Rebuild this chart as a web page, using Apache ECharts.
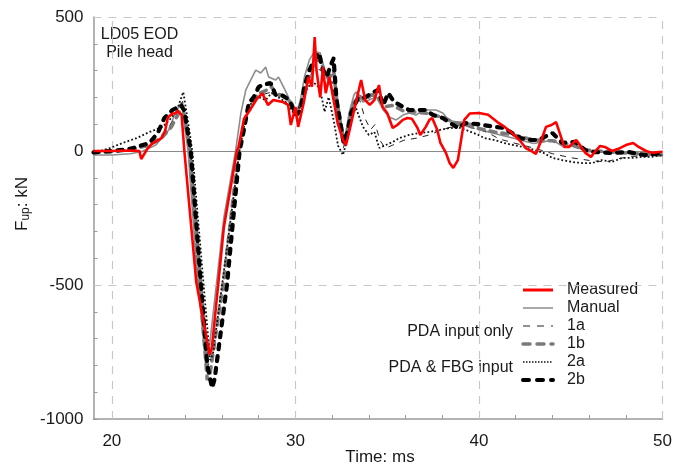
<!DOCTYPE html>
<html>
<head>
<meta charset="utf-8">
<script src="https://cdn.jsdelivr.net/npm/echarts@6/dist/echarts.min.js"></script>
<style>
html, body { margin: 0; padding: 0; background: #fff; }
#chart { width: 675px; height: 469px; }
</style>
</head>
<body>
<div id="chart"></div>
<script>
// Axis ticks and labels
const xLabelValues = [20, 30, 40, 50];
const xTickValues = [20, 22, 24, 26, 28, 30, 32, 34, 36, 38, 40, 42, 44, 46, 48, 50];
const yTickValues = [-1000, -900, -800, -700, -600, -500, -400, -300, -200, -100, 0, 100, 200, 300, 400, 500];
const xGridValues = [20, 30, 40, 50];
const yGridValues = [500, -500];

// Upward force at the pile head, [time ms, force kN]
const measured = [
  [19.0, 0], [20.0, 0], [21.0, 2], [21.5, 0], [21.6, -30], [21.95, 10], [22.2, 28], [22.5, 40],
  [22.7, 48], [22.9, 75], [23.05, 125], [23.3, 140], [23.45, 140], [23.6, 150], [23.8, 135],
  [23.95, 0], [24.6, -490], [25.33, -760], [25.45, -735], [26.1, -285], [26.81, 0], [26.9, 15],
  [27.2, 120], [27.5, 150], [27.9, 195], [28.2, 215], [28.5, 172], [28.8, 190], [29.3, 183],
  [29.6, 172], [29.75, 97], [30.0, 164], [30.15, 90], [30.45, 179], [30.7, 276], [30.9, 240],
  [31.05, 425], [31.15, 300], [31.35, 200], [31.5, 313], [31.65, 216], [31.85, 276], [32.15, 164],
  [32.3, 104], [32.6, 41], [32.75, 22], [32.95, 78], [33.3, 183], [33.58, 265], [33.8, 190],
  [34.05, 172], [34.3, 190], [34.55, 246], [34.75, 164], [35.0, 142], [35.3, 86], [35.55, 97],
  [35.85, 116], [36.1, 123], [36.35, 120], [36.65, 86], [36.8, 60], [37.1, 90], [37.3, 116],
  [37.45, 123], [37.73, 78], [37.9, 30], [38.2, -7], [38.4, -45], [38.6, -63], [38.85, -34],
  [39.0, 30], [39.2, 116], [39.5, 140], [40.0, 142], [40.5, 135], [41.0, 108], [41.4, 90],
  [41.8, 67], [42.2, 41], [42.55, 11], [42.85, 0], [43.1, -11], [43.4, 41], [43.65, 90],
  [43.95, 97], [44.2, 108], [44.4, 67], [44.65, 15], [44.9, 15], [45.3, 41], [45.8, -7],
  [46.1, -22], [46.35, 0], [46.6, 19], [46.85, 15], [47.25, 0], [47.6, 8], [48.0, 22],
  [48.4, 30], [48.7, 15], [49.1, 0], [49.45, -7], [49.8, -4], [50.0, -3]
];

const manual = [
  [19.0, -15], [20.0, -15], [21.0, -10], [21.6, -3], [22.4, 22], [23.1, 78], [23.45, 142],
  [23.8, 180], [24.15, 0], [24.6, -420], [25.1, -790], [25.3, -740], [26.1, -250], [26.74, 0],
  [27.03, 142], [27.3, 228], [27.57, 265], [27.84, 302], [28.11, 291], [28.38, 313], [28.54, 276],
  [28.92, 265], [29.08, 276], [29.35, 239], [29.62, 201], [29.78, 164], [30.05, 142], [30.27, 190],
  [30.49, 276], [30.76, 340], [31.03, 370], [31.35, 366], [31.7, 276], [31.97, 239], [32.24, 164],
  [32.49, 52], [32.65, 22], [32.92, 142], [33.19, 209], [33.3, 220], [33.68, 183], [34.0, 190],
  [34.41, 201], [34.78, 153], [35.11, 127], [35.49, 116], [35.86, 134], [36.19, 142], [36.57, 134],
  [36.95, 153], [37.66, 153], [38.03, 142], [38.35, 116], [38.73, 108], [39.11, 108], [39.43, 104],
  [39.81, 97], [40.3, 75], [41.18, 60], [42.05, 45], [42.97, 28], [43.51, 34], [44.0, 41],
  [44.54, 18], [45.24, 22], [45.78, -3], [47.08, -3], [47.78, -7], [48.7, -11], [50.0, -10]
];

const model1a = [
  [19.0, -8], [20.0, 0], [21.0, 10], [22.0, 30], [22.5, 45], [23.0, 80], [23.5, 130], [23.85, 185],
  [24.3, 0], [24.8, -430], [25.25, -800], [25.4, -780], [26.1, -450], [26.9, 0], [27.3, 150],
  [27.7, 190], [28.2, 210], [28.7, 220], [29.2, 200], [29.6, 175], [30.0, 135], [30.4, 200],
  [30.8, 280], [31.1, 310], [31.4, 300], [31.7, 240], [32.0, 260], [32.3, 120], [32.6, 10],
  [32.85, 60], [33.2, 170], [33.5, 190], [33.8, 120], [34.1, 80], [34.35, 100], [34.6, 40],
  [34.9, 10], [35.3, 22], [35.9, 40], [36.6, 48], [37.3, 60], [38.0, 80], [38.8, 95], [39.4, 90],
  [40.0, 80], [40.5, 68], [41.1, 45], [41.9, 30], [43.0, 11], [44.0, -10], [45.0, -25],
  [46.0, -35], [46.9, -41], [47.5, -30], [48.3, -20], [49.4, -18], [50.0, -15]
];

const model1b = [
  [19.0, -5], [20.0, -3], [21.0, 5], [22.05, 22], [22.7, 48], [23.24, 90], [23.68, 146], [23.8, 175],
  [23.95, 130], [24.25, 0], [24.7, -430], [25.2, -855], [25.35, -830], [26.1, -480], [26.9, 0],
  [27.19, 90], [27.46, 170], [27.73, 190], [28.0, 215], [28.38, 225], [28.7, 240], [28.92, 215],
  [29.35, 205], [29.78, 180], [30.05, 140], [30.32, 175], [30.65, 255], [31.03, 330], [31.35, 345],
  [31.59, 290], [31.81, 270], [32.08, 300], [32.24, 200], [32.49, 85], [32.7, 35], [32.92, 110],
  [33.19, 180], [33.46, 205], [33.8, 190], [34.14, 210], [34.5, 200], [34.84, 165], [35.3, 170],
  [35.86, 150], [36.57, 145], [37.28, 140], [38.03, 125], [38.73, 105], [39.43, 95], [39.81, 86],
  [40.84, 71], [41.89, 60], [42.97, 41], [44.0, 38], [45.08, 22], [45.78, 4], [47.24, -4],
  [48.7, -11], [50.0, -15]
];

const model2a = [
  [19.0, -8], [19.89, 11], [20.59, 30], [21.35, 48], [22.05, 71], [22.76, 90], [23.14, 116],
  [23.51, 146], [23.89, 220], [24.22, 78], [24.38, 0], [24.9, -420], [25.35, -780], [25.5, -760],
  [26.2, -400], [26.95, 0], [27.3, 127], [27.62, 183], [28.0, 201], [28.38, 190], [28.7, 216],
  [29.08, 200], [29.46, 183], [29.78, 153], [30.05, 127], [30.32, 175], [30.65, 235], [30.92, 257],
  [31.19, 246], [31.43, 201], [31.59, 146], [31.81, 201], [32.08, 116], [32.32, 20], [32.59, -15],
  [32.86, 52], [33.14, 142], [33.3, 160], [33.68, 90], [34.0, 60], [34.3, 71], [34.57, 11],
  [34.84, 20], [35.32, 34], [35.65, 48], [36.19, 60], [36.73, 67], [37.28, 71], [37.81, 78],
  [38.35, 85], [38.89, 88], [39.43, 75], [39.97, 60], [40.3, 48], [40.84, 41], [41.35, 30],
  [41.89, 22], [42.43, 15], [42.97, 5], [43.51, -7], [44.0, -26], [44.54, -34], [45.08, -41],
  [45.62, -45], [46.16, -45], [46.7, -34], [47.24, -41], [47.78, -26], [48.32, -26], [48.86, -22],
  [49.41, -22], [50.0, -15]
];

const model2b = [
  [19.0, -5], [20.0, 0], [21.0, 8], [22.05, 30], [22.5, 67], [22.86, 123], [23.3, 153], [23.78, 170],
  [23.95, 150], [24.3, 0], [24.8, -450], [25.2, -800], [25.46, -884], [25.6, -850], [26.27, -500],
  [26.96, 0], [27.03, 4], [27.19, 78], [27.46, 179], [27.73, 201], [28.0, 239], [28.19, 246],
  [28.65, 254], [28.92, 209], [29.24, 209], [29.51, 198], [29.78, 172], [30.05, 134], [30.27, 150],
  [30.49, 239], [30.76, 302], [31.03, 340], [31.3, 366], [31.43, 313], [31.7, 276], [31.97, 328],
  [32.08, 345], [32.24, 190], [32.49, 90], [32.65, 30], [32.86, 78], [33.03, 142], [33.41, 198],
  [33.8, 200], [34.14, 216], [34.51, 228], [34.78, 170], [35.05, 216], [35.38, 183], [36.19, 153],
  [37.1, 153], [37.5, 134], [38.03, 123], [38.84, 86], [39.27, 104], [39.97, 100], [40.84, 90],
  [41.35, 86], [42.27, 48], [42.86, 41], [43.24, 41], [44.0, 67], [44.54, 30], [45.24, 34],
  [45.78, 4], [46.32, -4], [47.24, -7], [48.16, -4], [49.03, -15], [50.0, -8]
];

const FONT = '"Liberation Sans", Arial, sans-serif';
const AXIS_GRAY = '#9a9a9a';
const GRID_GRAY = '#c8c8c8';

// Line styles shared by the curves and their legend samples
const styles = {
  'Measured': { color: '#ff0000', width: 2.6, type: 'solid' },
  'Manual': { color: '#8c8c8c', width: 1.6, type: 'solid' },
  '1a': { color: '#222222', width: 1, type: [6, 6] },
  '1b': { color: '#7a7a7a', width: 3.6, type: [6, 6], cap: 'round' },
  '2a': { color: '#111111', width: 1.8, type: [1.8, 2.2] },
  '2b': { color: '#000000', width: 4.2, type: [5, 7], cap: 'round' }
};
const legendStyles = {
  'Measured': { color: '#ff0000', width: 3, type: 'solid' },
  'Manual': { color: '#8c8c8c', width: 1.5, type: 'solid' },
  '1a': { color: '#222222', width: 1, type: [7, 7] },
  '1b': { color: '#7a7a7a', width: 3.5, type: [7, 7] },
  '2a': { color: '#111111', width: 1.5, type: [1.5, 1.5] },
  '2b': { color: '#000000', width: 4, type: [6, 8], cap: 'round' }
};

const chart = echarts.init(document.getElementById('chart'), null, { renderer: 'canvas' });

function curve(name, data, z) {
  return {
    name: name,
    type: 'line',
    data: data,
    symbol: 'none',
    showSymbol: false,
    smooth: false,
    z: z,
    lineStyle: styles[name],
    itemStyle: { color: styles[name].color },
    emphasis: { disabled: true },
    animation: false
  };
}

const legendOrder = ['Measured', 'Manual', '1a', '1b', '2a', '2b'];

const option = {
  animation: false,
  backgroundColor: '#ffffff',
  textStyle: { fontFamily: FONT },
  grid: { left: 93.5, right: 8, top: 17, bottom: 50, containLabel: false },
  xAxis: {
    type: 'value',
    min: 19,
    max: 50,
    axisLine: { show: true, onZero: false, lineStyle: { color: AXIS_GRAY, width: 1.5 } },
    axisTick: { show: true, inside: true, length: 4, customValues: xTickValues, lineStyle: { color: AXIS_GRAY } },
    axisLabel: { customValues: xLabelValues, color: '#1a1a1a', fontSize: 17, fontFamily: FONT, margin: 14 },
    splitLine: { show: false }
  },
  yAxis: {
    type: 'value',
    min: -1000,
    max: 500,
    interval: 500,
    axisLine: { show: true, onZero: false, lineStyle: { color: AXIS_GRAY, width: 1.5 } },
    axisTick: { show: true, inside: true, length: 4, customValues: yTickValues, lineStyle: { color: AXIS_GRAY } },
    axisLabel: { color: '#1a1a1a', fontSize: 17, fontFamily: FONT, margin: 10, formatter: v => String(v) },
    splitLine: { show: false }
  },
  legend: {
    orient: 'vertical',
    left: 521,
    top: 282,
    padding: 0,
    itemWidth: 30,
    itemHeight: 14,
    itemGap: 2,
    itemStyle: { opacity: 0, borderWidth: 0 },
    data: legendOrder.map(n => ({ name: n, lineStyle: legendStyles[n], itemStyle: { opacity: 0, borderWidth: 0 } })),
    textStyle: { fontSize: 16, fontFamily: FONT, color: '#1a1a1a', lineHeight: 16, padding: [0, 0, 0, 9] },
    selectedMode: false
  },
  graphic: [
    { type: 'text', x: 139.5, y: 35, style: { text: 'LD05 EOD', font: '16px ' + FONT, fill: '#1a1a1a', align: 'center', verticalAlign: 'middle' } },
    { type: 'text', x: 139.5, y: 53, style: { text: 'Pile head', font: '16px ' + FONT, fill: '#1a1a1a', align: 'center', verticalAlign: 'middle' } },
    { type: 'text', x: 513, y: 332, style: { text: 'PDA input only', font: '16px ' + FONT, fill: '#1a1a1a', align: 'right', verticalAlign: 'middle' } },
    { type: 'text', x: 513, y: 368, style: { text: 'PDA & FBG input', font: '16px ' + FONT, fill: '#1a1a1a', align: 'right', verticalAlign: 'middle' } },
    { type: 'text', x: 380, y: 457, style: { text: 'Time: ms', font: '17px ' + FONT, fill: '#1a1a1a', align: 'center', verticalAlign: 'middle' } },
    {
      type: 'text', x: 22, y: 204, rotation: Math.PI / 2,
      style: {
        text: '{a|F}{b|up}{a|: kN}',
        align: 'center', verticalAlign: 'middle',
        rich: {
          a: { fontSize: 17, fontFamily: FONT, fill: '#1a1a1a', color: '#1a1a1a' },
          b: { fontSize: 12, fontFamily: FONT, fill: '#1a1a1a', color: '#1a1a1a', verticalAlign: 'bottom', padding: [8, 0, 0, 0] }
        }
      }
    }
  ],
  series: [
    {
      name: 'reference lines',
      type: 'line',
      data: [],
      silent: true,
      z: 1,
      markLine: {
        silent: true,
        symbol: 'none',
        animation: false,
        label: { show: false },
        emphasis: { disabled: true },
        data: [
          ...xGridValues.map(v => ({ xAxis: v, lineStyle: { color: GRID_GRAY, type: [8, 7], width: 1.2 } })),
          ...yGridValues.map(v => ({ yAxis: v, lineStyle: { color: GRID_GRAY, type: [8, 7], width: 1.2 } })),
          { yAxis: 0, lineStyle: { color: '#8a8a8a', type: 'solid', width: 1 } }
        ]
      }
    },
    curve('Manual', manual, 3),
    curve('1a', model1a, 4),
    curve('1b', model1b, 5),
    curve('2a', model2a, 6),
    curve('2b', model2b, 7),
    curve('Measured', measured, 8)
  ]
};

chart.setOption(option);
</script>
</body>
</html>
